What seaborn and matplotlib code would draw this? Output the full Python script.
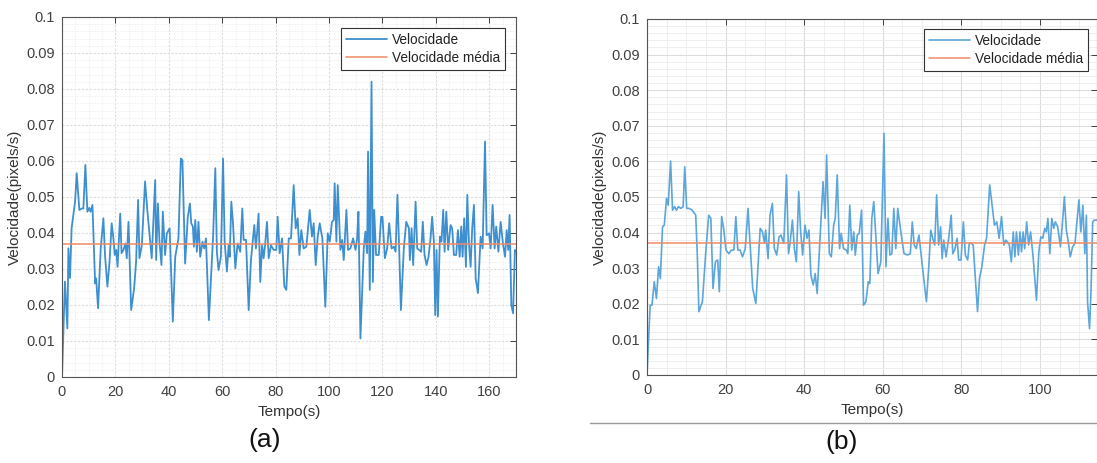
import numpy as np
import pandas as pd
import seaborn as sns
import matplotlib
matplotlib.use("Agg")
import matplotlib.pyplot as plt
from matplotlib.ticker import MultipleLocator, FuncFormatter

# ---------------- data ----------------
time_a = [0, 0.5, 1.1, 2.0, 2.4, 3.0, 3.6, 4.9, 5.5, 6.5, 7.4, 8.0, 8.75, 9.5, 10.2, 10.7, 11.4,
          12.4, 12.8, 13.5, 14.5, 15.5, 16.1, 17.0, 17.8, 18.6, 19.25, 19.75, 20.3, 20.8, 21.8,
          22.3, 23.0, 23.75, 24.25, 24.9, 25.9, 27.0, 27.75, 28.5, 29.0, 29.9, 31.1, 32.0, 32.75,
          33.6, 34.9, 35.25, 35.9, 36.5, 37.25, 37.75, 38.6, 39.25, 40.3, 41.5, 42.4, 43.6, 44.5,
          45.1, 46.1, 47.1, 47.9, 48.4, 49.0, 49.4, 49.9, 50.5, 51.1, 51.75, 52.6, 53.25, 53.9,
          55.0, 56.1, 56.6, 57.4, 58.0, 58.6, 59.5, 60.3, 60.9, 61.75, 62.4, 62.8, 63.4, 64.0,
          64.9, 65.75, 66.75, 67.5, 68.0, 68.9, 69.9, 70.75, 72.0, 72.6, 73.6, 74.25, 74.9, 75.5,
          76.1, 76.75, 77.4, 78.25, 79.25, 80.25, 80.75, 81.5, 82.4, 83.25, 84.0, 84.9, 85.75,
          86.75, 87.5, 88.25, 88.9, 89.6, 90.5, 91.5, 92.75, 93.6, 94.25, 95.0, 95.75, 96.5, 97.5,
          98.6, 99.5, 100.25, 101.1, 101.75, 102.1, 102.75, 103.25, 104.25, 104.9, 105.5, 106.5,
          107.1, 108.0, 109.0, 109.9, 110.5, 111.0, 111.75, 113.0, 113.6, 114.25, 114.6, 115.25,
          115.9, 116.4, 116.9, 117.6, 118.6, 119.5, 120.0, 120.9, 121.75, 122.5, 123.4, 124.25,
          124.9, 125.6, 126.25, 126.9, 128.0, 128.9, 129.9, 130.25, 130.9, 131.5, 132.4, 133.0,
          133.75, 134.5, 135.1, 135.75, 136.5, 137.25, 138.0, 138.6, 139.25, 139.75, 140.25,
          140.75, 141.5, 142.1, 142.75, 143.25, 143.9, 144.6, 145.5, 146.1, 146.75, 147.6, 148.25,
          148.9, 149.5, 150.0, 150.6, 151.25, 151.75, 152.4, 153.0, 153.6, 154.25, 154.9, 155.75,
          156.75, 157.5, 158.4, 159.0, 159.9, 160.5, 161.25, 162.0, 162.6, 163.4, 164.25, 165.1,
          165.9, 166.5, 167.1, 167.6, 168.25, 168.9, 169.6, 170.0]
vel_a = [0, 0.012, 0.0265, 0.0135, 0.0357, 0.0275, 0.0413, 0.0487, 0.0566, 0.0464, 0.0468, 0.0468,
         0.0589, 0.0459, 0.047, 0.0459, 0.0478, 0.026, 0.0274, 0.0191, 0.0357, 0.0441, 0.0339,
         0.0251, 0.032, 0.0427, 0.0385, 0.0339, 0.0353, 0.0306, 0.0454, 0.0344, 0.0353, 0.0371,
         0.033, 0.0431, 0.0186, 0.0246, 0.032, 0.0492, 0.033, 0.0366, 0.0543, 0.0459, 0.0399,
         0.033, 0.0547, 0.0325, 0.0482, 0.0376, 0.0311, 0.0459, 0.0339, 0.0399, 0.0413, 0.0154,
         0.0334, 0.0385, 0.0607, 0.0602, 0.0315, 0.0445, 0.0482, 0.0427, 0.0418, 0.0362, 0.0436,
         0.0348, 0.0431, 0.0334, 0.0376, 0.0357, 0.0385, 0.0158, 0.032, 0.0394, 0.058, 0.0348,
         0.0297, 0.0334, 0.0607, 0.0376, 0.0293, 0.0366, 0.0334, 0.0487, 0.0431, 0.0302, 0.0371,
         0.0348, 0.0468, 0.0381, 0.0381, 0.0186, 0.0325, 0.0422, 0.0357, 0.0454, 0.0264, 0.0366,
         0.033, 0.0371, 0.0431, 0.033, 0.0366, 0.0353, 0.0353, 0.0445, 0.0344, 0.0385, 0.0251,
         0.0242, 0.0385, 0.0385, 0.0533, 0.0413, 0.0441, 0.0339, 0.0408, 0.0357, 0.0362, 0.0464,
         0.039, 0.0427, 0.0311, 0.039, 0.0427, 0.0385, 0.0195, 0.0399, 0.0376, 0.0431, 0.0436,
         0.0538, 0.0376, 0.0533, 0.0353, 0.0381, 0.0325, 0.0464, 0.0353, 0.0357, 0.0385, 0.0353,
         0.0385, 0.0459, 0.0107, 0.0357, 0.0404, 0.0344, 0.0626, 0.0242, 0.082, 0.0264, 0.0464,
         0.0339, 0.0339, 0.0445, 0.0445, 0.033, 0.0357, 0.0427, 0.0357, 0.0362, 0.0348, 0.0506,
         0.0357, 0.0186, 0.0357, 0.0431, 0.0413, 0.0325, 0.0413, 0.0311, 0.0487, 0.0357, 0.0353,
         0.0348, 0.0431, 0.0339, 0.0311, 0.0334, 0.0385, 0.0445, 0.0376, 0.0172, 0.0353, 0.0168,
         0.039, 0.0376, 0.0464, 0.0348, 0.0459, 0.0353, 0.0422, 0.0413, 0.0339, 0.0339, 0.0408,
         0.0334, 0.0418, 0.0334, 0.0441, 0.0306, 0.0506, 0.0371, 0.0306, 0.0413, 0.0478, 0.0274,
         0.0233, 0.039, 0.0357, 0.0654, 0.0394, 0.0399, 0.0357, 0.0478, 0.0357, 0.0418, 0.0348,
         0.0431, 0.0371, 0.0334, 0.0408, 0.0353, 0.045, 0.02, 0.0177, 0.0353, 0.0348]
mean_a = 0.0370

time_b = [0, 0.8, 1.26, 1.85, 2.4, 2.95, 3.4, 3.95, 4.4, 4.97, 5.4, 6.0, 6.5, 7.0, 7.5, 8.0, 8.6,
          9.2, 9.6, 10.1, 10.7, 11.5, 12.4, 12.8, 13.2, 14.1, 14.9, 15.7, 16.25, 16.8, 17.4, 18.0,
          18.4, 19.0, 19.5, 20.1, 20.8, 21.5, 22.1, 22.6, 23.1, 23.7, 24.3, 25.0, 25.7, 26.3, 26.9,
          27.7, 28.8, 29.4, 29.9, 30.2, 30.8, 31.3, 31.9, 32.4, 33.0, 33.6, 34.1, 34.8, 35.5, 36.0,
          36.4, 37.0, 37.5, 38.0, 38.6, 39.1, 39.6, 40.2, 40.7, 41.2, 41.7, 42.3, 42.8, 43.3, 44.0,
          44.8, 45.3, 45.7, 46.4, 46.9, 47.5, 47.9, 48.4, 49.0, 49.4, 50.0, 50.7, 51.1, 51.6, 52.1,
          52.6, 53.0, 53.5, 54.0, 54.6, 55.1, 55.7, 56.3, 56.7, 57.2, 57.7, 58.3, 58.8, 59.5, 60.3,
          60.8, 61.3, 61.8, 62.3, 62.8, 63.3, 63.8, 64.7, 65.4, 66.3, 67.0, 67.5, 68.0, 68.5, 69.2,
          69.9, 70.5, 71.1, 71.7, 72.2, 72.7, 73.2, 73.7, 74.2, 74.7, 75.1, 75.5, 76.1, 76.8, 77.4,
          77.8, 78.3, 78.9, 79.3, 79.9, 80.5, 81.0, 81.6, 82.0, 82.5, 83.0, 83.5, 84.1, 84.6, 85.2,
          85.9, 86.4, 87.2, 87.9, 88.4, 89.0, 89.6, 90.2, 90.8, 91.3, 91.7, 92.2, 92.7, 93.2, 93.6,
          94.0, 94.5, 94.9, 95.3, 95.7, 96.1, 96.6, 97.1, 97.6, 98.2, 99.1, 99.7, 100.2, 100.7,
          101.2, 101.6, 102.0, 102.5, 103.0, 103.5, 103.9, 104.5, 105.2, 105.8, 106.2, 106.7,
          107.2, 107.7, 108.3, 108.9, 109.4, 109.9, 110.4, 110.9, 111.4, 111.8, 112.1, 112.6,
          113.0, 113.4, 113.8, 114.5]
vel_b = [0, 0.0196, 0.0196, 0.0262, 0.0215, 0.0304, 0.0271, 0.0416, 0.0421, 0.0496, 0.0477, 0.0601,
         0.0463, 0.0473, 0.0463, 0.0473, 0.0468, 0.0473, 0.0585, 0.0468, 0.0468, 0.0463, 0.0449,
         0.0337, 0.0178, 0.0206, 0.0337, 0.0449, 0.044, 0.0243, 0.0318, 0.0323, 0.0234, 0.0445,
         0.0412, 0.0351, 0.0341, 0.0351, 0.0351, 0.0445, 0.0351, 0.0351, 0.0332, 0.0355, 0.0468,
         0.0355, 0.0243, 0.0201, 0.0412, 0.0402, 0.037, 0.0407, 0.0327, 0.0449, 0.0482, 0.0355,
         0.0337, 0.0388, 0.0393, 0.037, 0.0562, 0.0341, 0.037, 0.0435, 0.0355, 0.0318, 0.0515,
         0.0402, 0.0337, 0.0421, 0.0384, 0.0407, 0.0281, 0.0253, 0.0285, 0.0229, 0.0379, 0.0543,
         0.044, 0.0618, 0.0341, 0.0332, 0.0421, 0.044, 0.0562, 0.0355, 0.0398, 0.0355, 0.0351,
         0.0341, 0.0477, 0.0351, 0.0402, 0.0337, 0.0393, 0.0398, 0.0463, 0.0196, 0.0206, 0.0262,
         0.0257, 0.044, 0.0487, 0.0374, 0.0285, 0.0318, 0.0679, 0.0304, 0.044, 0.0337, 0.0341,
         0.0468, 0.0355, 0.0468, 0.0393, 0.0341, 0.0337, 0.0341, 0.043, 0.0365, 0.0355, 0.0393,
         0.0323, 0.0262, 0.0206, 0.0304, 0.0407, 0.0384, 0.0365, 0.0506, 0.0365, 0.0416, 0.0327,
         0.0379, 0.0332, 0.0388, 0.0449, 0.0341, 0.0351, 0.0384, 0.0323, 0.0323, 0.043, 0.0337,
         0.0323, 0.037, 0.037, 0.0365, 0.0281, 0.0178, 0.0271, 0.0304, 0.0365, 0.0384, 0.0534,
         0.0468, 0.0421, 0.043, 0.0384, 0.0445, 0.0365, 0.0379, 0.0374, 0.0365, 0.0318, 0.0402,
         0.0332, 0.0402, 0.0337, 0.0402, 0.0346, 0.0402, 0.0355, 0.043, 0.0365, 0.0402, 0.0337,
         0.021, 0.0346, 0.0388, 0.0384, 0.0412, 0.0402, 0.044, 0.0341, 0.044, 0.0412, 0.043,
         0.0416, 0.036, 0.044, 0.0501, 0.0407, 0.0374, 0.0332, 0.036, 0.037, 0.043, 0.0492,
         0.0402, 0.0477, 0.0341, 0.0449, 0.0206, 0.013, 0.0243, 0.043, 0.0435, 0.0435]
mean_b = 0.0372

label_speed = "Velocidade"
label_mean = "Velocidade média"
x_label = "Tempo(s)"
y_label = "Velocidade(pixels/s)"
panel_labels = ["(a)", "(b)"]
xticks_a = [0, 20, 40, 60, 80, 100, 120, 140, 160]
xticks_b = [0, 20, 40, 60, 80, 100]
yticks = [0, 0.01, 0.02, 0.03, 0.04, 0.05, 0.06, 0.07, 0.08, 0.09, 0.1]

# ---------------- style ----------------
sns.set_theme(style="white")
plt.rcParams['font.family'] = ['Liberation Sans', 'DejaVu Sans']

W, H = 1097, 463
fig = plt.figure(figsize=(W / 100, H / 100), dpi=100)

def px_axes(l, t, r, b):
    return fig.add_axes([l / W, 1 - b / H, (r - l) / W, (b - t) / H])

ax_a = px_axes(62, 17, 516, 377)
ax_b = px_axes(647, 19, 1097, 375)

tick_col = "#404040"
blue_a = "#3d8fcf"
blue_b = "#5ba6da"
red = "#ee8a66"

def style(ax, xlim, xticks, dotted):
    ax.set_xlim(*xlim)
    ax.set_ylim(0, 0.1)
    ax.set_xticks(xticks)
    ax.set_yticks(yticks)
    ax.xaxis.set_minor_locator(MultipleLocator(5))
    ax.yaxis.set_minor_locator(MultipleLocator(0.002))
    ax.yaxis.set_major_formatter(FuncFormatter(lambda v, p: "0" if abs(v) < 1e-9 else f"{v:.2f}".rstrip("0")))
    ax.grid(True, which="major", color="#dcdcdc", linewidth=0.8, linestyle="-" if not dotted else (0, (2, 1.5)))
    ax.grid(True, which="minor", color="#ececec", linewidth=0.6, linestyle=(0, (1.5, 1.5)) if dotted else "-")
    ax.set_axisbelow(True)
    ax.tick_params(which="major", direction="in", length=4, width=0.7, colors=tick_col,
                   top=True, right=True, labelsize=10.5, pad=5)
    ax.tick_params(axis="x", which="major", pad=6)
    ax.tick_params(which="minor", length=0)
    for s in ax.spines.values():
        s.set_color("#555555")
        s.set_linewidth(0.8)
    ax.set_xlabel(x_label, fontsize=11, color="#333333", labelpad=4)
    ax.set_ylabel(y_label, fontsize=11, color="#333333", labelpad=3)

df_a = pd.DataFrame({"t": time_a, "v": vel_a})
df_b = pd.DataFrame({"t": time_b, "v": vel_b})
mean_df_a = pd.DataFrame({"t": [0, 170], "v": [mean_a, mean_a]})
mean_df_b = pd.DataFrame({"t": [0, 114.5], "v": [mean_b, mean_b]})

sns.lineplot(data=df_a, x="t", y="v", ax=ax_a, color=blue_a, linewidth=1.3, label=label_speed,
             estimator=None, sort=False)
sns.lineplot(data=mean_df_a, x="t", y="v", ax=ax_a, color=red, linewidth=1.1, label=label_mean,
             estimator=None)
sns.lineplot(data=df_b, x="t", y="v", ax=ax_b, color=blue_b, linewidth=1.2, label=label_speed,
             estimator=None, sort=False)
sns.lineplot(data=mean_df_b, x="t", y="v", ax=ax_b, color=red, linewidth=1.1, label=label_mean,
             estimator=None)

style(ax_a, (0, 170), xticks_a, True)
style(ax_b, (0, 114.5), xticks_b, False)

for ax, anchor in ((ax_a, (0.976, 0.969)), (ax_b, (0.98, 0.972))):
    leg = ax.legend(loc="upper right", bbox_to_anchor=anchor, fontsize=9.8, frameon=True,
                    fancybox=False, edgecolor="#333333", framealpha=1, handlelength=3.0,
                    handletextpad=0.4, borderpad=0.35, labelspacing=0.3, borderaxespad=0)
    leg.get_frame().set_linewidth(0.8)
    for txt in leg.get_texts():
        txt.set_color("#222222")

fig.text(265 / W, 1 - 440 / H, panel_labels[0], fontsize=19, ha="center", va="center", color="#111111")
fig.text(842 / W, 1 - 442 / H, panel_labels[1], fontsize=19, ha="center", va="center", color="#111111")
fig.add_artist(plt.Line2D([590 / W, 1.0], [1 - 423 / H, 1 - 423 / H], color="#999999", linewidth=1.0))

fig.savefig("out.png", dpi=100)
